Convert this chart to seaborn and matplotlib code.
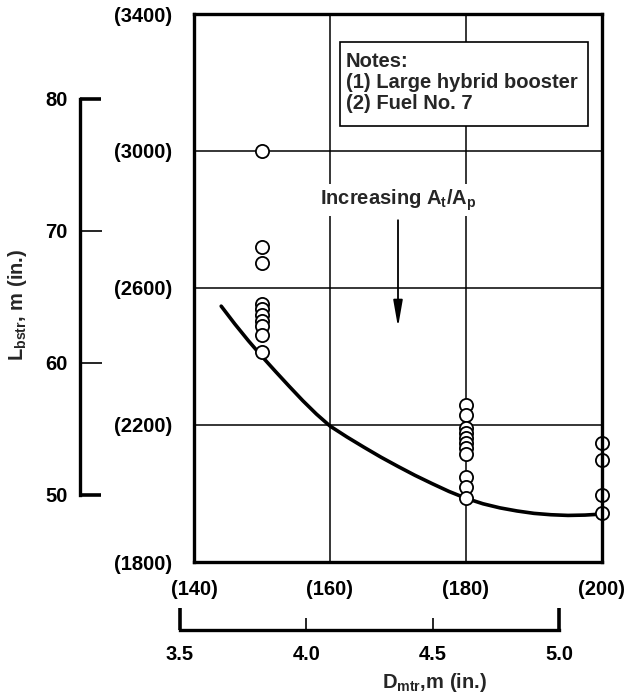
import numpy as np
import pandas as pd
import matplotlib
matplotlib.use("Agg")
import matplotlib.pyplot as plt
from matplotlib.patches import Rectangle
import seaborn as sns

# ---- data (inches) ----
d150_y = [3000, 2720, 2673, 2552, 2538, 2522, 2505, 2488, 2462, 2412]
d180_y = [2258, 2229, 2191, 2177, 2162, 2147, 2133, 2115, 2048, 2019, 1987]
d200_y = [2147, 2098, 1996, 1943]

curve_x = [144, 146, 148, 150, 152, 154, 156, 158, 160, 162.5, 165, 167.5, 170,
           172.5, 175, 177.5, 180, 182.5, 185, 187.5, 190, 192.5, 195, 197.5, 200]
curve_y = [2547, 2495, 2446, 2400, 2356, 2313, 2271, 2232, 2197, 2165, 2135, 2106, 2079,
           2053, 2029, 2006, 1986, 1970, 1958, 1949, 1942, 1938, 1936, 1937, 1940]

x_ticks = [140, 160, 180, 200]
x_ticklabels = ["(140)", "(160)", "(180)", "(200)"]
y_ticks = [1800, 2200, 2600, 3000, 3400]
y_ticklabels = ["(1800)", "(2200)", "(2600)", "(3000)", "(3400)"]

m_x_major = [3.5, 5.0]
m_x_minor = [4.0, 4.5]
m_y_major = [50, 80]
m_y_minor = [60, 70]

notes = ["Notes:", "(1) Large hybrid booster", "(2) Fuel No. 7"]

pts = pd.DataFrame({
    "D": [150] * len(d150_y) + [180] * len(d180_y) + [200] * len(d200_y),
    "L": d150_y + d180_y + d200_y,
})
curve = pd.DataFrame({"D": curve_x, "L": curve_y})

sns.set_style("white")
plt.rcParams["font.family"] = ["Liberation Sans", "DejaVu Sans"]
plt.rcParams["font.weight"] = "bold"
plt.rcParams["mathtext.fontset"] = "custom"
plt.rcParams["mathtext.rm"] = "Liberation Sans:bold"
plt.rcParams["mathtext.it"] = "Liberation Sans:bold"
plt.rcParams["mathtext.bf"] = "Liberation Sans:bold"
plt.rcParams["mathtext.default"] = "rm"

FS = 14.5
W, H = 624, 692
fig = plt.figure(figsize=(W / 100, H / 100), dpi=100)

def pos(x0, y0, x1, y1):
    return [x0 / W, 1 - y1 / H, (x1 - x0) / W, (y1 - y0) / H]

ax = fig.add_axes(pos(194, 14, 602, 562))
ax.set_xlim(140, 200)
ax.set_ylim(1800, 3400)
ax.set_xticks(x_ticks, labels=x_ticklabels)
ax.set_yticks(y_ticks, labels=y_ticklabels)
ax.tick_params(axis="both", length=0, labelsize=FS, colors="black")
ax.tick_params(axis="x", pad=13)
ax.tick_params(axis="y", pad=16)
ax.grid(True, color="black", lw=1.1)
for s in ax.spines.values():
    s.set_linewidth(2.4)
    s.set_color("black")
    s.set_zorder(6)

sns.lineplot(data=curve, x="D", y="L", ax=ax, color="black", lw=2.6, zorder=3)
sns.scatterplot(data=pts, x="D", y="L", ax=ax, s=90, marker="o",
                facecolor="white", edgecolor="black", linewidth=1.3,
                zorder=5, clip_on=False)
ax.set_xlabel("")
ax.set_ylabel("")

# Notes box
ax.add_patch(Rectangle((0.358, 0.796), 0.608, 0.153, transform=ax.transAxes,
                       facecolor="white", edgecolor="black", lw=1.2, zorder=4))
for i, t in enumerate(notes):
    ax.text(0.372, 0.913 - i * 0.038, t, transform=ax.transAxes, fontsize=FS,
            ha="left", va="center", zorder=7)

# Arrow annotation
ax.text(170, 2857, r"Increasing A$_{\rm t}$/A$_{\rm p}$", fontsize=FS,
        ha="center", va="center", zorder=7,
        bbox=dict(facecolor="white", edgecolor="none", pad=2))
ax.annotate("", xy=(170, 2486), xytext=(170, 2798),
            arrowprops=dict(arrowstyle="-|>,head_length=1.6,head_width=0.28",
                            color="black", lw=1.3, shrinkA=0, shrinkB=0),
            zorder=7)

# left metre bracket
axl = fig.add_axes(pos(80, 99, 90, 495))
axl.set_ylim(50, 80)
axl.patch.set_alpha(0)
for k in ["top", "right", "bottom"]:
    axl.spines[k].set_visible(False)
axl.spines["left"].set_linewidth(2.4)
axl.spines["left"].set_color("black")
axl.set_xticks([])
axl.set_yticks(m_y_major, labels=[str(v) for v in m_y_major])
axl.set_yticks(m_y_minor, labels=[str(v) for v in m_y_minor], minor=True)
axl.tick_params(axis="y", which="both", left=True, labelleft=True)
axl.tick_params(axis="y", which="major", direction="in", length=15, width=2.6,
                pad=9, labelsize=FS, colors="black")
axl.tick_params(axis="y", which="minor", direction="in", length=16, width=1.2,
                pad=9, labelsize=FS, colors="black")

# bottom metre bracket
axb = fig.add_axes(pos(180, 620, 559, 630))
axb.set_xlim(3.5, 5.0)
axb.patch.set_alpha(0)
for k in ["top", "right", "left"]:
    axb.spines[k].set_visible(False)
axb.spines["bottom"].set_linewidth(2.4)
axb.spines["bottom"].set_color("black")
axb.set_yticks([])
axb.set_xticks(m_x_major, labels=[f"{v:.1f}" for v in m_x_major])
axb.set_xticks(m_x_minor, labels=[f"{v:.1f}" for v in m_x_minor], minor=True)
axb.tick_params(axis="x", which="both", bottom=True, labelbottom=True)
axb.tick_params(axis="x", which="major", direction="in", length=16, width=2.6,
                pad=11, labelsize=FS, colors="black")
axb.tick_params(axis="x", which="minor", direction="in", length=9, width=1.2,
                pad=11, labelsize=FS, colors="black")

fig.text(434 / W, 1 - 682 / H, r"D$_{\rm mtr}$,m (in.)", fontsize=FS,
         ha="center", va="center")
fig.text(18 / W, 1 - 305 / H, r"L$_{\rm bstr}$, m (in.)", fontsize=FS,
         ha="center", va="center", rotation=90)

fig.savefig("out.png", dpi=100, facecolor="white")
